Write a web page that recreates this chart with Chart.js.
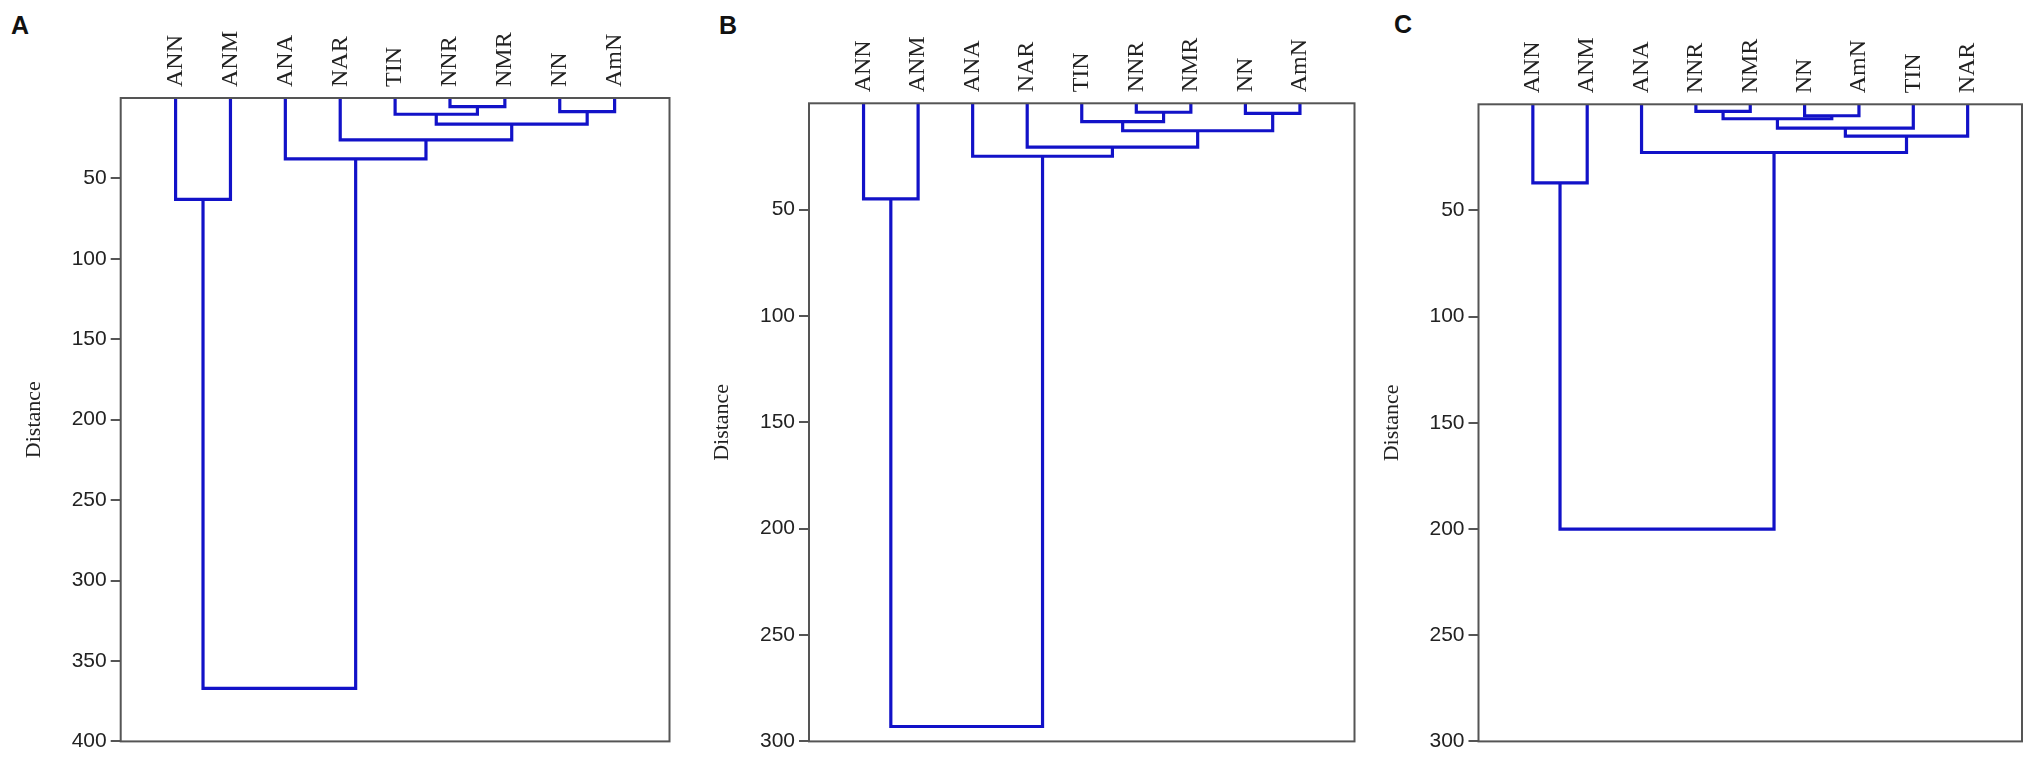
<!DOCTYPE html>
<html>
<head>
<meta charset="utf-8">
<script src="https://cdn.jsdelivr.net/npm/chart.js@4.4.1/dist/chart.umd.min.js"></script>
<style>
  html, body { margin: 0; padding: 0; background: #fff; }
  body { width: 2033px; height: 758px; position: relative; overflow: hidden; }
  canvas { position: absolute; top: 0; }
  .tag { position: absolute; font: bold 25px "Liberation Sans", Arial, sans-serif; color: #111; line-height: 1; }
</style>
</head>
<body>
<div class="tag" style="left:11px;top:13px">A</div>
<div class="tag" style="left:719px;top:13px">B</div>
<div class="tag" style="left:1394px;top:12px">C</div>
<canvas id="cA" width="690" height="758" style="left:0px"></canvas>
<canvas id="cB" width="680" height="758" style="left:690px"></canvas>
<canvas id="cC" width="663" height="758" style="left:1370px"></canvas>
<script>
// leaf order along the top axis of each tree
var leavesA = ['ANN', 'ANM', 'ANA', 'NAR', 'TIN', 'NNR', 'NMR', 'NN', 'AmN'];
var leavesB = ['ANN', 'ANM', 'ANA', 'NAR', 'TIN', 'NNR', 'NMR', 'NN', 'AmN'];
var leavesC = ['ANN', 'ANM', 'ANA', 'NNR', 'NMR', 'NN', 'AmN', 'TIN', 'NAR'];

// merges: [node a, node b, distance]; leaves are 0..8, merge k makes node 9+k
var mergesA = [[5, 6, 5.4], [4, 9, 10.1], [7, 8, 8.5], [10, 11, 16.3], [3, 12, 26], [2, 13, 37.9], [0, 1, 63], [15, 14, 367]];
var mergesB = [[5, 6, 4.2], [4, 9, 8.6], [7, 8, 4.7], [10, 11, 12.9], [3, 12, 20.6], [2, 13, 24.9], [0, 1, 44.9], [15, 14, 293]];
var mergesC = [[3, 4, 3.3], [5, 6, 5.4], [9, 10, 6.8], [11, 7, 11.2], [12, 8, 15.0], [2, 13, 22.7], [0, 1, 37], [15, 14, 200]];

var maxA = 400, maxB = 300, maxC = 300;
var step = 50;

var BLUE = '#1212c8';
var GREY = '#555';
var LEAF_SIZE = 24;

function links(leaves, merges){
  var xs = [], hs = [];
  for (var i = 0; i < leaves.length; i++){ xs.push(i); hs.push(0); }
  var sets = [];
  merges.forEach(function(m){
    var a = m[0], b = m[1], h = m[2];
    sets.push({
      data: [{x: xs[a], y: hs[a]}, {x: xs[a], y: h}, {x: xs[b], y: h}, {x: xs[b], y: hs[b]}],
      showLine: true, borderColor: BLUE, borderWidth: 3.2, pointRadius: 0,
      borderJoinStyle: 'miter', tension: 0, clip: 4
    });
    xs.push((xs[a] + xs[b]) / 2);
    hs.push(h);
  });
  return sets;
}

var frame = {
  id: 'frame',
  afterDatasetsDraw: function(chart){
    var a = chart.chartArea, ctx = chart.ctx;
    ctx.save();
    ctx.strokeStyle = GREY;
    ctx.lineWidth = 2;
    ctx.strokeRect(a.left, a.top, a.right - a.left, a.bottom - a.top);
    ctx.restore();
  }
};

function tree(id, leaves, merges, yMax, axisW, axisH, padRight, titlePad){
  return new Chart(document.getElementById(id), {
    type: 'scatter',
    data: {datasets: links(leaves, merges)},
    plugins: [frame],
    options: {
      responsive: false,
      animation: false,
      devicePixelRatio: 1,
      layout: {padding: {left: 0, right: padRight, top: 0, bottom: 13}},
      plugins: {legend: {display: false}, tooltip: {enabled: false}},
      scales: {
        x: {
          type: 'linear', position: 'top', min: -1, max: 9,
          grid: {display: false, drawTicks: false},
          border: {display: false},
          afterFit: function(s){ s.height = axisH; },
          ticks: {
            stepSize: 1, autoSkip: false, minRotation: 90, maxRotation: 90,
            padding: 11, color: '#222',
            // rotated top labels are pushed left by one line height; push them back
            labelOffset: LEAF_SIZE * 1.2,
            font: {family: '"Liberation Serif", "Times New Roman", serif', size: LEAF_SIZE},
            callback: function(v){ return leaves[v] || ''; }
          }
        },
        y: {
          type: 'linear', position: 'left', reverse: true, min: 0, max: yMax,
          border: {display: false},
          afterFit: function(s){ s.width = axisW; },
          grid: {
            drawOnChartArea: false, drawTicks: true, tickLength: 10, lineWidth: 2,
            color: function(c){ return c.tick && c.tick.value === 0 ? 'rgba(0,0,0,0)' : GREY; }
          },
          ticks: {
            stepSize: step, padding: 4, color: '#222',
            font: {family: '"Liberation Sans", Arial, sans-serif', size: 21},
            callback: function(v){ return v === 0 ? '' : v; }
          },
          title: {
            display: true, text: 'Distance', color: '#222',
            font: {family: '"Liberation Serif", "Times New Roman", serif', size: 22},
            padding: {top: titlePad, bottom: 0}
          }
        }
      }
    }
  });
}

tree('cA', leavesA, mergesA, maxA, 120.7, 98, 20.5, 20.8);
tree('cB', leavesB, mergesB, maxB, 119, 103.3, 15.5, 18.8);
tree('cC', leavesC, mergesC, maxC, 108.5, 104.3, 8.5, 8.8);
</script>
</body>
</html>
